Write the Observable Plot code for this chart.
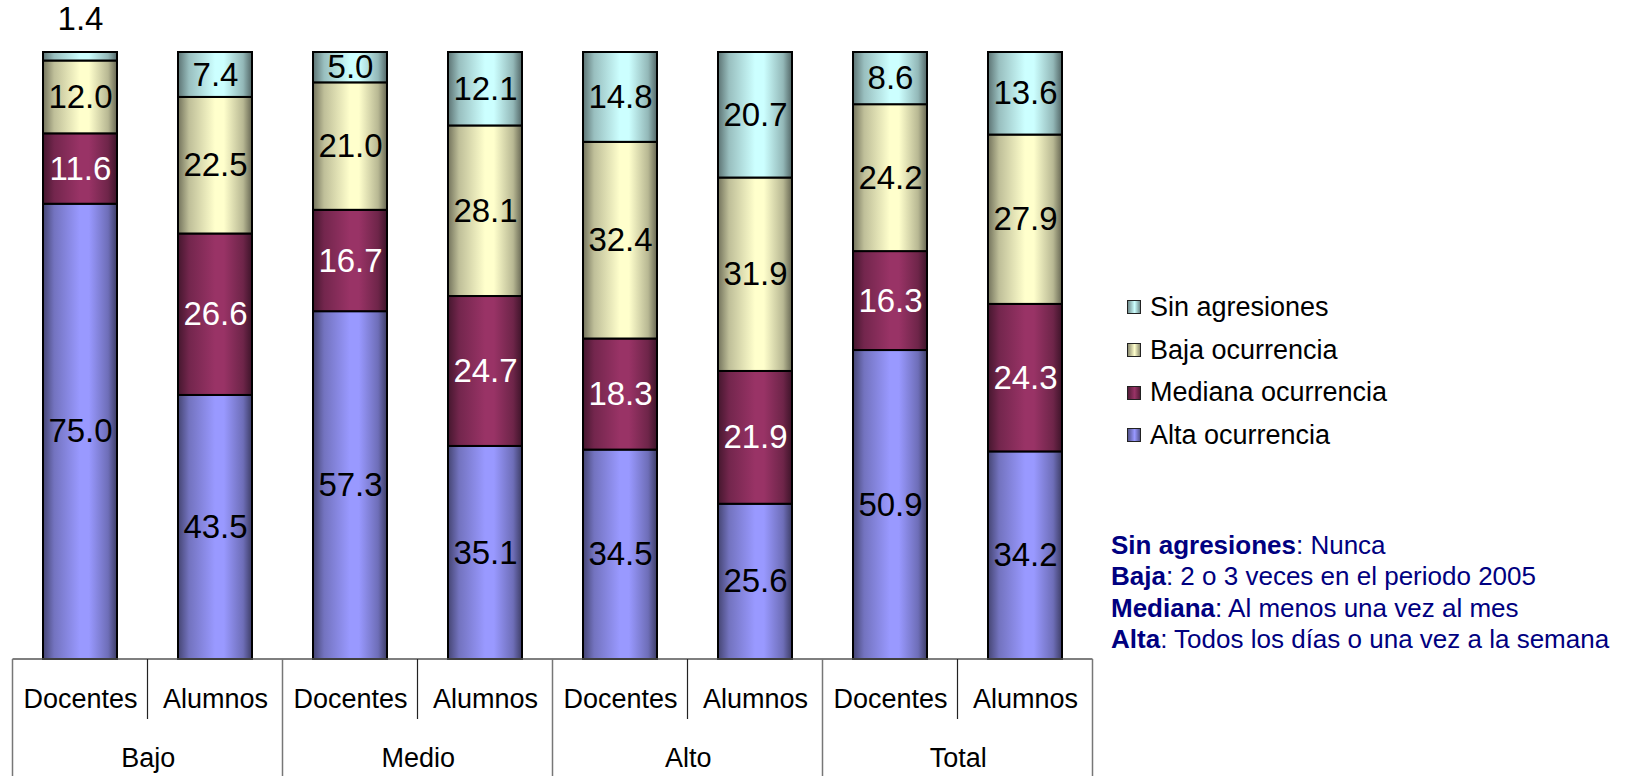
<!DOCTYPE html>
<html><head><meta charset="utf-8">
<script src="https://cdn.jsdelivr.net/npm/d3@7"></script>
<script src="https://cdn.jsdelivr.net/npm/@observablehq/plot@0.6"></script>
<style>
body{margin:0;background:#fff;font-family:"Liberation Sans",Arial,sans-serif;}
#wrap{position:relative;width:1640px;height:776px;overflow:hidden;background:#fff;}
#wrap svg{position:absolute;left:0;top:0;}
#legend{position:absolute;left:1127px;top:286px;}
.li{display:flex;align-items:center;height:42.7px;font-size:27px;color:#000;white-space:nowrap;}
.sw{width:12px;height:12px;border:1.5px solid #222;margin-right:9px;}
#note{position:absolute;left:1111px;top:530px;color:#000080;font-size:26px;line-height:31.4px;white-space:nowrap;}
</style></head><body><div id="wrap"></div>
<script>
// ---- data ----
const groups = ["Bajo", "Medio", "Alto", "Total"];
const roles = ["Docentes", "Alumnos"];
const series = ["Alta ocurrencia", "Mediana ocurrencia", "Baja ocurrencia", "Sin agresiones"]; // bottom -> top
const alta    = [75.0, 43.5, 57.3, 35.1, 34.5, 25.6, 50.9, 34.2];
const mediana = [11.6, 26.6, 16.7, 24.7, 18.3, 21.9, 16.3, 24.3];
const baja    = [12.0, 22.5, 21.0, 28.1, 32.4, 31.9, 24.2, 27.9];
const sin     = [1.4, 7.4, 5.0, 12.1, 14.8, 20.7, 8.6, 13.6];
const colors  = ["#9999FF", "#993366", "#FFFFCC", "#CCFFFF"];
const noteKeys = ["Sin agresiones", "Baja", "Mediana", "Alta"];
const noteTexts = ["Nunca", "2 o 3 veces en el periodo 2005", "Al menos una vez al mes", "Todos los días o una vez a la semana"];

// ---- table ----
const keys = [];
groups.forEach(g => roles.forEach(r => keys.push(g + "|" + r)));
const valuesBySeries = [alta, mediana, baja, sin];
const rows = [];
keys.forEach((k, i) => series.forEach((s, j) => rows.push({key: k, series: s, value: valuesBySeries[j][i]})));

const W = 1640, H = 776, ML = 11, MR = 545, MT = 52, MB = 117;
const step = (W - ML - MR) / keys.length;
const gradIds = series.map((s, i) => "grad" + i);
const fmt = v => v.toFixed(1);
const stackOpts = {x: "key", y: "value", z: "series", order: series, offset: "normalize"};

const chart = Plot.plot({
  width: W, height: H,
  marginLeft: ML, marginRight: MR, marginTop: MT, marginBottom: MB,
  style: {fontFamily: '"Liberation Sans", Arial, sans-serif', background: "white", color: "black"},
  x: {domain: keys, paddingInner: 0.45, paddingOuter: 0.225},
  y: {domain: [0, 1], axis: null},
  color: {domain: series, range: gradIds.map(id => `url(#${id})`)},
  marks: [
    Plot.barY(rows, {...stackOpts, fill: "series", stroke: "black", strokeWidth: 2}),
    Plot.text(rows, Plot.stackY({...stackOpts,
      text: d => (d.value >= 3 && d.series !== series[1]) ? fmt(d.value) : "",
      fill: "black", fontSize: 33})),
    Plot.text(rows, Plot.stackY({...stackOpts,
      text: d => (d.value >= 3 && d.series === series[1]) ? fmt(d.value) : "",
      fill: "white", fontSize: 33})),
    Plot.text(rows, Plot.stackY2({...stackOpts,
      text: d => d.value < 3 ? fmt(d.value) : "",
      fill: "black", fontSize: 33, dy: -33})),
    Plot.axisX({tickSize: 0, tickPadding: 29, fontSize: 27, label: null,
      tickFormat: k => k.split("|")[1]}),
    Plot.axisX({ticks: keys.filter(k => k.endsWith("|" + roles[0])), dx: step / 2,
      tickSize: 0, tickPadding: 88, fontSize: 27, label: null,
      tickFormat: k => k.split("|")[0]})
  ]
});

// gradients for the cylinder look
const svg = d3.select(chart);
const defs = svg.insert("defs", ":first-child");
const stops = [[0, 0.45], [0.15, 0.75], [0.5, 1], [0.62, 1], [0.88, 0.72], [1, 0.4]];
series.forEach((s, i) => {
  const c = d3.rgb(colors[i]);
  const lg = defs.append("linearGradient").attr("id", gradIds[i])
    .attr("x1", 0).attr("x2", 1).attr("y1", 0).attr("y2", 0);
  stops.forEach(([o, f]) => lg.append("stop").attr("offset", o)
    .attr("stop-color", d3.rgb(c.r * f, c.g * f, c.b * f).formatHex()));
});

// category table lines under the bars, from the x scale
const xs = chart.scale("x");
const bw = xs.bandwidth, st = xs.step || step;
const y0 = H - MB;
const gl = svg.append("g").attr("fill", "none");
const bounds = keys.map(k => xs.apply(k) - (st - bw) / 2);
bounds.push(bounds[bounds.length - 1] + st);
gl.append("line").attr("x1", bounds[0]).attr("x2", bounds[bounds.length - 1])
  .attr("y1", y0).attr("y2", y0).attr("stroke", "#555").attr("stroke-width", 1.5);
bounds.forEach((b, i) => {
  gl.append("line").attr("x1", b).attr("x2", b).attr("y1", y0)
    .attr("y2", i % 2 === 0 ? H : y0 + 60)
    .attr("stroke", i % 2 === 0 ? "#777" : "#222").attr("stroke-width", i % 2 === 0 ? 1.5 : 1.2);
});

const wrap = document.getElementById("wrap");
wrap.appendChild(chart);

// legend (top to bottom reversed)
const legend = document.createElement("div");
legend.id = "legend";
series.slice().reverse().forEach(s => {
  const c = d3.rgb(colors[series.indexOf(s)]);
  const dk = d3.rgb(c.r * 0.55, c.g * 0.55, c.b * 0.55).formatHex();
  const item = document.createElement("div");
  item.className = "li";
  const sw = document.createElement("span");
  sw.className = "sw";
  sw.style.background = `linear-gradient(to right, ${dk}, ${c.formatHex()} 55%, ${dk})`;
  item.appendChild(sw);
  item.appendChild(document.createTextNode(s));
  legend.appendChild(item);
});
wrap.appendChild(legend);

// notes
const note = document.createElement("div");
note.id = "note";
noteKeys.forEach((k, i) => {
  const line = document.createElement("div");
  const b = document.createElement("b");
  b.textContent = k;
  line.appendChild(b);
  line.appendChild(document.createTextNode(": " + noteTexts[i]));
  note.appendChild(line);
});
wrap.appendChild(note);
</script></body></html>
